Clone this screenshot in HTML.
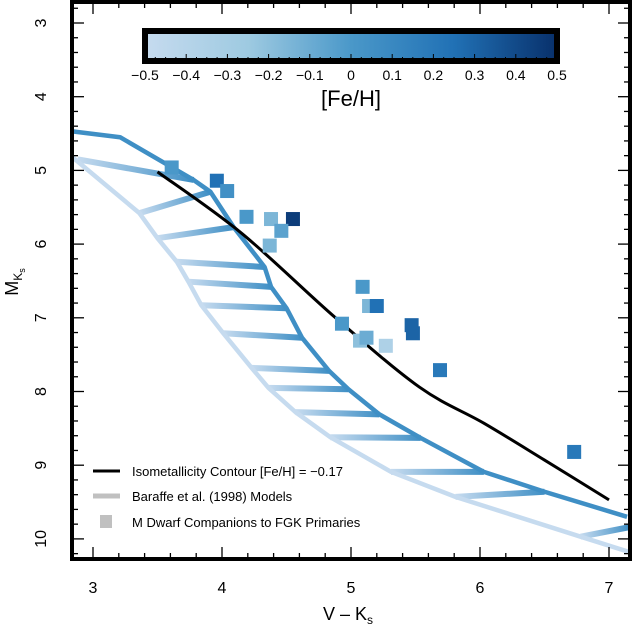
<!DOCTYPE html>
<html><head><meta charset="utf-8"><style>
html,body{margin:0;padding:0;background:#fff;}
svg{display:block;font-family:"Liberation Sans",sans-serif;}
</style></head><body>
<svg id="chart" width="632" height="627" viewBox="0 0 632 627">
<defs>
<clipPath id="plotclip"><rect x="72" y="2" width="558" height="557"/></clipPath>
<linearGradient id="cbar" x1="0" x2="1" y1="0" y2="0">
<stop offset="0" stop-color="#c6dbef"/><stop offset="0.25" stop-color="#9ecae1"/><stop offset="0.5" stop-color="#4a98c9"/><stop offset="0.75" stop-color="#2171b5"/><stop offset="1" stop-color="#08306b"/>
</linearGradient>
</defs>
<g id="models" clip-path="url(#plotclip)"></g>
<g id="contour" clip-path="url(#plotclip)"></g>
<g id="points" clip-path="url(#plotclip)"></g>
<g id="axes"></g>
<g id="colorbar">
<rect x="145" y="31" width="412" height="30" fill="url(#cbar)"/>
<g id="cbticks"></g>
<rect x="145" y="31" width="412" height="30" fill="none" stroke="#000" stroke-width="6"/>
<text x="351" y="106" font-size="22" text-anchor="middle">[Fe/H]</text>
</g>
<g id="legend">
<line x1="93" y1="471" x2="120" y2="471" stroke="#000" stroke-width="3"/>
<text x="132" y="476" font-size="13">Isometallicity Contour [Fe/H] = −0.17</text>
<line x1="93" y1="496" x2="120" y2="496" stroke="#c0c0c0" stroke-width="5"/>
<text x="132" y="501" font-size="13">Baraffe et al. (1998) Models</text>
<rect x="100" y="515" width="12" height="13" fill="#c0c0c0"/>
<text x="132" y="527" font-size="13">M Dwarf Companions to FGK Primaries</text>
</g>
</svg>
<script>
const pointVK=[3.61,3.96,4.04,4.19,4.38,4.55,4.46,4.37,5.09,5.14,5.20,4.93,5.47,5.48,5.07,5.12,5.27,5.69,6.73];
const pointMK=[4.96,5.14,5.28,5.63,5.66,5.66,5.82,6.02,6.58,6.84,6.84,7.08,7.10,7.21,7.31,7.27,7.38,7.71,8.82];
const pointFeH=[0.0,0.25,0.05,0.0,-0.15,0.45,-0.05,-0.15,0.0,-0.15,0.25,0.0,0.3,0.3,-0.2,-0.1,-0.35,0.2,0.2];
const upperVK=[2.84,3.21,3.78,3.91,4.09,4.33,4.38,4.50,4.62,4.83,4.98,5.22,5.54,6.03,6.50,7.14];
const upperMK=[4.47,4.55,5.13,5.29,5.77,6.31,6.58,6.87,7.27,7.72,7.97,8.31,8.63,9.09,9.36,9.70];
const lowerVK=[2.84,3.36,3.50,3.65,3.74,3.84,4.01,4.23,4.36,4.57,4.84,5.31,5.81,6.78,7.18];
const lowerMK=[4.82,5.58,5.92,6.24,6.51,6.83,7.21,7.68,7.95,8.28,8.62,9.09,9.43,9.97,10.19];
const hatchLowVK=[2.88,3.36,3.50,3.65,3.74,3.84,4.01,4.23,4.36,4.57,4.84,5.31,5.81,6.78];
const hatchLowMK=[4.85,5.58,5.92,6.24,6.51,6.83,7.21,7.68,7.95,8.28,8.62,9.09,9.43,9.97];
const hatchUpVK=[3.78,3.91,4.09,4.33,4.38,4.50,4.62,4.83,4.98,5.22,5.54,6.03,6.50,7.16];
const hatchUpMK=[5.13,5.29,5.77,6.31,6.58,6.87,7.27,7.72,7.97,8.31,8.63,9.09,9.36,9.84];
const contourVK=[3.50,4.15,4.88,5.53,6.03,6.50,7.00];
const contourMK=[5.02,5.85,7.00,7.94,8.43,8.93,9.47];
const xTicks=[3,4,5,6,7];
const yTicks=[3,4,5,6,7,8,9,10];
const cbTicks=[-0.5,-0.4,-0.3,-0.2,-0.1,0,0.1,0.2,0.3,0.4,0.5];

const NS="http://www.w3.org/2000/svg";
const X=v=>93+(v-3)*129;
const Y=m=>23+(m-3)*73.7;
const CB=f=>145+(f+0.5)*412;
function mk(tag,attrs,parent){const e=document.createElementNS(NS,tag);for(const k in attrs)e.setAttribute(k,attrs[k]);parent.appendChild(e);return e;}
function lerp(a,b,t){return a.map((v,i)=>Math.round(v+(b[i]-v)*t));}
function smooth(xs,ys){
  const p=xs.map((v,i)=>[X(v),Y(ys[i])]);
  let d=`M${p[0][0]},${p[0][1]}`;
  for(let i=0;i<p.length-1;i++){
    const p0=p[Math.max(0,i-1)],p1=p[i],p2=p[i+1],p3=p[Math.min(p.length-1,i+2)];
    const c1=[p1[0]+(p2[0]-p0[0])/6,p1[1]+(p2[1]-p0[1])/6];
    const c2=[p2[0]-(p3[0]-p1[0])/6,p2[1]-(p3[1]-p1[1])/6];
    d+=` C${c1[0]},${c1[1]} ${c2[0]},${c2[1]} ${p2[0]},${p2[1]}`;
  }
  return d;
}
function fehColor(f){
  const stops=[[198,219,239],[158,202,225],[74,152,201],[33,113,181],[8,48,107]];
  let t=Math.max(0,Math.min(1,f+0.5))*4;let i=Math.min(3,Math.floor(t));
  const c=lerp(stops[i],stops[i+1],t-i);return `rgb(${c[0]},${c[1]},${c[2]})`;
}
const models=document.getElementById('models');
const defs=document.querySelector('defs');
for(let i=0;i<hatchLowVK.length;i++){
  const g=mk('linearGradient',{id:'hg'+i,gradientUnits:'userSpaceOnUse',x1:X(hatchLowVK[i]),y1:Y(hatchLowMK[i]),x2:X(hatchUpVK[i]),y2:Y(hatchUpMK[i])},defs);
  mk('stop',{offset:'0','stop-color':'#c6dbef'},g);mk('stop',{offset:'1','stop-color':'#3f8fc5'},g);
  const l=mk('line',{x1:X(hatchLowVK[i]),y1:Y(hatchLowMK[i]),x2:X(hatchUpVK[i]),y2:Y(hatchUpMK[i]),stroke:'url(#hg'+i+')','stroke-width':6},models);
  
  
}
const lp=mk('polyline',{points:lowerVK.map((v,i)=>X(v)+','+Y(lowerMK[i])).join(' '),fill:'none',stroke:'#c6dbef','stroke-width':4.5,'stroke-linejoin':'round'},models);


const up=mk('polyline',{points:upperVK.map((v,i)=>X(v)+','+Y(upperMK[i])).join(' '),fill:'none',stroke:'#3f8fc5','stroke-width':4.5,'stroke-linejoin':'round'},models);


const cont=document.getElementById('contour');
const cp=mk('path',{d:smooth(contourVK,contourMK),fill:'none',stroke:'#000','stroke-width':3},cont);


const pts=document.getElementById('points');
for(let i=0;i<pointVK.length;i++){
  const r=mk('rect',{x:X(pointVK[i])-7,y:Y(pointMK[i])-7,width:14,height:14,fill:fehColor(pointFeH[i])},pts);
  
  
}
const axes=document.getElementById('axes');
for(let v=2.8;v<=7.2;v+=0.2){const x=X(v);if(x<74||x>628)continue;const maj=Math.abs(v-Math.round(v))<0.01;const L=maj?12:6;
  mk('line',{x1:x,y1:559,x2:x,y2:559-L,stroke:'#000','stroke-width':1.3},axes);mk('line',{x1:x,y1:2,x2:x,y2:2+L,stroke:'#000','stroke-width':1.3},axes);}
for(let m=2.8;m<=10.4;m+=0.2){const y=Y(m);if(y<4||y>557)continue;const maj=Math.abs(m-Math.round(m))<0.01;const L=maj?12:6;
  mk('line',{x1:72,y1:y,x2:72+L,y2:y,stroke:'#000','stroke-width':1.3},axes);mk('line',{x1:630,y1:y,x2:630-L,y2:y,stroke:'#000','stroke-width':1.3},axes);}
const fr=mk('rect',{x:72,y:2,width:558,height:557,fill:'none',stroke:'#000','stroke-width':4},axes);


xTicks.forEach(v=>{const t=mk('text',{x:X(v),y:593,'font-size':16,'text-anchor':'middle'},axes);t.textContent=v;
  
  });
yTicks.forEach(m=>{const t=mk('text',{x:0,y:0,'font-size':16,'text-anchor':'middle',transform:`translate(46,${Y(m)}) rotate(-90)`},axes);t.textContent=m;
  
  });
const xt=mk('text',{x:348,y:620,'font-size':18,'text-anchor':'middle'},axes);
xt.innerHTML='V – K<tspan font-size="12" dy="4">s</tspan>';


const yt=mk('text',{x:0,y:0,'font-size':18,'text-anchor':'middle',transform:'translate(18,282) rotate(-90)'},axes);
yt.innerHTML='M<tspan font-size="12" dy="4">K</tspan><tspan font-size="9" dy="3">s</tspan>';


const cbt=document.getElementById('cbticks');
for(let f=-0.5;f<=0.501;f+=0.025){const x=CB(f);const maj=Math.abs(f*10-Math.round(f*10))<0.01;
  mk('line',{x1:x,y1:61,x2:x,y2:maj?54:57,stroke:'#000','stroke-width':1},cbt);}
cbTicks.forEach(f=>{const t=mk('text',{x:CB(f),y:80,'font-size':14,'text-anchor':'middle'},cbt);t.textContent=(f<0?'−':'')+Math.abs(f).toString();
  if(f===0)t.textContent='0';
  
  });
</script>
</body></html>
